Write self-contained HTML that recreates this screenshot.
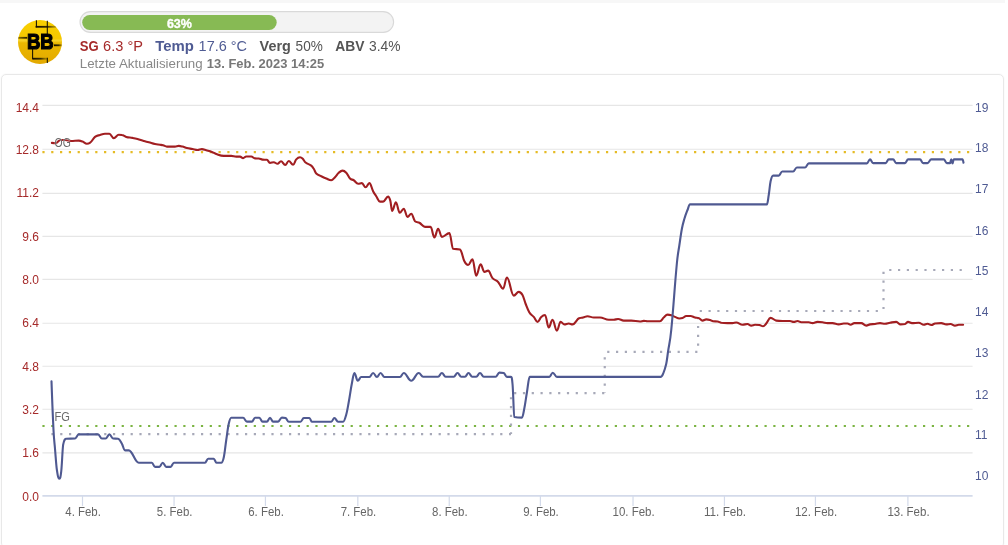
<!DOCTYPE html>
<html><head><meta charset="utf-8">
<style>
html,body{margin:0;padding:0;background:#fff;}
body{width:1008px;height:545px;overflow:hidden;position:relative;font-family:"Liberation Sans", sans-serif;}
#topstrip{position:absolute;left:0;top:0;width:1005px;height:3px;background:#f7f7f7;}
#card{position:absolute;left:0.8px;top:73.6px;width:1002.8px;height:474px;border:1.2px solid #e8e8e8;border-radius:5px;box-sizing:border-box;box-shadow:0 0 1.5px rgba(0,0,0,0.07);}
svg text{font-family:"Liberation Sans", sans-serif;}
svg{will-change:transform;}
</style></head><body>
<div id="topstrip"></div>
<div id="card"></div>
<svg width="1008" height="80" viewBox="0 0 1008 80" style="position:absolute;left:0;top:0">
<defs><linearGradient id="lg" x1="0" y1="0" x2="0" y2="1"><stop offset="0" stop-color="#f9d000"/><stop offset="0.42" stop-color="#f5c800"/><stop offset="0.47" stop-color="#f7d22a"/><stop offset="0.52" stop-color="#ebb800"/><stop offset="1" stop-color="#e3a900"/></linearGradient>
<linearGradient id="lh1" x1="0" y1="0" x2="1" y2="0"><stop offset="0" stop-color="#1a1200"/><stop offset="0.55" stop-color="#3a2e00"/><stop offset="1" stop-color="#9a7d00" stop-opacity="0.6"/></linearGradient>
<linearGradient id="lh2" x1="0" y1="0" x2="1" y2="0"><stop offset="0" stop-color="#8a7000"/><stop offset="1" stop-color="#2a2000"/></linearGradient>
<clipPath id="cc"><circle cx="40" cy="42" r="22"/></clipPath></defs>
<circle cx="40" cy="42" r="22" fill="url(#lg)"/>
<g clip-path="url(#cc)">
<rect x="35.6" y="25.9" width="20.6" height="1.8" fill="url(#lh1)"/>
<rect x="18" y="36.9" width="9.2" height="1.8" fill="url(#lh2)"/>
<rect x="54" y="44.4" width="8.5" height="1.8" fill="url(#lh1)"/>
<rect x="32.6" y="57.8" width="15.1" height="1.8" fill="url(#lh1)"/>
</g>
<g stroke="#151100" stroke-width="1.05" fill="none">
<path d="M36.4 20.2V27.2"/>
<path d="M47.3 20.8V34"/>
<path d="M32.6 49V59.2"/>
<path d="M47.3 57.8V63"/>
</g>
<text x="26.9" y="49.4" font-size="22" font-weight="bold" fill="#000" stroke="#000" stroke-width="1.2" textLength="26.8" lengthAdjust="spacingAndGlyphs">BB</text>
<rect x="80" y="11.6" width="313.6" height="20.8" rx="10.4" fill="#f3f3f3" stroke="#d9d9d9" stroke-width="1.1"/>
<rect x="82.2" y="15" width="194.5" height="15" rx="7.5" fill="#87ba54"/>
<text x="166.9" y="27.5" font-size="12.5" font-weight="bold" fill="#fff" stroke="#fff" stroke-width="0.35" textLength="25" lengthAdjust="spacingAndGlyphs">63%</text>
<text x="79.75" y="50.6" font-size="14.5" font-weight="bold" fill="#a52a2a" textLength="18.9" lengthAdjust="spacingAndGlyphs">SG</text>
<text x="103.1" y="50.6" font-size="14.5" fill="#a52a2a" textLength="39.9" lengthAdjust="spacingAndGlyphs">6.3 °P</text>
<text x="155.3" y="50.6" font-size="14.5" font-weight="bold" fill="#4f5b93" textLength="38.6" lengthAdjust="spacingAndGlyphs">Temp</text>
<text x="198.6" y="50.6" font-size="14.5" fill="#4f5b93" textLength="48.4" lengthAdjust="spacingAndGlyphs">17.6 °C</text>
<text x="259.6" y="50.6" font-size="14.5" font-weight="bold" fill="#555" textLength="31.2" lengthAdjust="spacingAndGlyphs">Verg</text>
<text x="295.6" y="50.6" font-size="14.5" fill="#555" textLength="27.2" lengthAdjust="spacingAndGlyphs">50%</text>
<text x="335.3" y="50.6" font-size="14.5" font-weight="bold" fill="#555" textLength="29.2" lengthAdjust="spacingAndGlyphs">ABV</text>
<text x="369.1" y="50.6" font-size="14.5" fill="#555" textLength="31.5" lengthAdjust="spacingAndGlyphs">3.4%</text>
<text x="79.75" y="67.8" font-size="12" fill="#888" textLength="122.9" lengthAdjust="spacingAndGlyphs">Letzte Aktualisierung</text>
<text x="206.8" y="67.8" font-size="12" font-weight="bold" fill="#777" textLength="117.3" lengthAdjust="spacingAndGlyphs">13. Feb. 2023 14:25</text>
</svg>
<svg width="1008" height="545" viewBox="0 0 1008 545" style="position:absolute;left:0;top:0">
<path d="M42.4 105.40H972.6" stroke="#e6e6e6" stroke-width="1.1"/>
<path d="M42.4 149.30H972.6" stroke="#e6e6e6" stroke-width="1.1"/>
<path d="M42.4 193.40H972.6" stroke="#e6e6e6" stroke-width="1.1"/>
<path d="M42.4 236.40H972.6" stroke="#e6e6e6" stroke-width="1.1"/>
<path d="M42.4 279.40H972.6" stroke="#e6e6e6" stroke-width="1.1"/>
<path d="M42.4 323.20H972.6" stroke="#e6e6e6" stroke-width="1.1"/>
<path d="M42.4 366.30H972.6" stroke="#e6e6e6" stroke-width="1.1"/>
<path d="M42.4 409.20H972.6" stroke="#e6e6e6" stroke-width="1.1"/>
<path d="M42.4 452.90H972.6" stroke="#e6e6e6" stroke-width="1.1"/>
<path d="M42.4 495.90H972.6" stroke="#d3daea" stroke-width="1.7"/>
<path d="M82.50 495.90V505.90" stroke="#d3daea" stroke-width="1.2"/>
<path d="M174.06 495.90V505.90" stroke="#d3daea" stroke-width="1.2"/>
<path d="M265.44 495.90V505.90" stroke="#d3daea" stroke-width="1.2"/>
<path d="M357.83 495.90V505.90" stroke="#d3daea" stroke-width="1.2"/>
<path d="M449.24 495.90V505.90" stroke="#d3daea" stroke-width="1.2"/>
<path d="M540.40 495.90V505.90" stroke="#d3daea" stroke-width="1.2"/>
<path d="M633.03 495.90V505.90" stroke="#d3daea" stroke-width="1.2"/>
<path d="M724.44 495.90V505.90" stroke="#d3daea" stroke-width="1.2"/>
<path d="M815.44 495.90V505.90" stroke="#d3daea" stroke-width="1.2"/>
<path d="M907.90 495.90V505.90" stroke="#d3daea" stroke-width="1.2"/>
<text x="39" y="112.15" text-anchor="end" fill="#a52a2a" font-size="12">14.4</text>
<text x="39" y="154.20" text-anchor="end" fill="#a52a2a" font-size="12">12.8</text>
<text x="39" y="197.10" text-anchor="end" fill="#a52a2a" font-size="12">11.2</text>
<text x="39" y="241.20" text-anchor="end" fill="#a52a2a" font-size="12">9.6</text>
<text x="39" y="284.20" text-anchor="end" fill="#a52a2a" font-size="12">8.0</text>
<text x="39" y="327.10" text-anchor="end" fill="#a52a2a" font-size="12">6.4</text>
<text x="39" y="371.20" text-anchor="end" fill="#a52a2a" font-size="12">4.8</text>
<text x="39" y="414.20" text-anchor="end" fill="#a52a2a" font-size="12">3.2</text>
<text x="39" y="457.20" text-anchor="end" fill="#a52a2a" font-size="12">1.6</text>
<text x="39" y="501.15" text-anchor="end" fill="#a52a2a" font-size="12">0.0</text>
<text x="975" y="112.00" fill="#4f5b93" font-size="12">19</text>
<text x="975" y="152.00" fill="#4f5b93" font-size="12">18</text>
<text x="975" y="192.60" fill="#4f5b93" font-size="12">17</text>
<text x="975" y="235.00" fill="#4f5b93" font-size="12">16</text>
<text x="975" y="275.00" fill="#4f5b93" font-size="12">15</text>
<text x="975" y="315.70" fill="#4f5b93" font-size="12">14</text>
<text x="975" y="357.00" fill="#4f5b93" font-size="12">13</text>
<text x="975" y="399.00" fill="#4f5b93" font-size="12">12</text>
<text x="975" y="439.00" fill="#4f5b93" font-size="12">11</text>
<text x="975" y="480.00" fill="#4f5b93" font-size="12">10</text>
<text x="83.10" y="516.1" text-anchor="middle" fill="#666" font-size="12" textLength="35.6" lengthAdjust="spacingAndGlyphs">4. Feb.</text>
<text x="174.66" y="516.1" text-anchor="middle" fill="#666" font-size="12" textLength="35.6" lengthAdjust="spacingAndGlyphs">5. Feb.</text>
<text x="266.04" y="516.1" text-anchor="middle" fill="#666" font-size="12" textLength="35.6" lengthAdjust="spacingAndGlyphs">6. Feb.</text>
<text x="358.43" y="516.1" text-anchor="middle" fill="#666" font-size="12" textLength="35.6" lengthAdjust="spacingAndGlyphs">7. Feb.</text>
<text x="449.84" y="516.1" text-anchor="middle" fill="#666" font-size="12" textLength="35.6" lengthAdjust="spacingAndGlyphs">8. Feb.</text>
<text x="541.00" y="516.1" text-anchor="middle" fill="#666" font-size="12" textLength="35.6" lengthAdjust="spacingAndGlyphs">9. Feb.</text>
<text x="633.63" y="516.1" text-anchor="middle" fill="#666" font-size="12" textLength="42.2" lengthAdjust="spacingAndGlyphs">10. Feb.</text>
<text x="725.04" y="516.1" text-anchor="middle" fill="#666" font-size="12" textLength="42.2" lengthAdjust="spacingAndGlyphs">11. Feb.</text>
<text x="816.04" y="516.1" text-anchor="middle" fill="#666" font-size="12" textLength="42.2" lengthAdjust="spacingAndGlyphs">12. Feb.</text>
<text x="908.50" y="516.1" text-anchor="middle" fill="#666" font-size="12" textLength="42.2" lengthAdjust="spacingAndGlyphs">13. Feb.</text>
<path d="M42.4 152.2H972.6" stroke="#e5bb25" stroke-width="2.2" stroke-dasharray="2.2 6.606"/>
<path d="M42.4 426H972.6" stroke="#7bb442" stroke-width="2.2" stroke-dasharray="2.2 6.606"/>
<path d="M51.40 434.10H511.00" fill="none" stroke="#a7a9b8" stroke-width="2.2" stroke-dasharray="2.2 6.6" stroke-dashoffset="0.00"/>
<path d="M511.00 434.10V393.10" fill="none" stroke="#a7a9b8" stroke-width="2.2" stroke-dasharray="2.2 6.6" stroke-dashoffset="0.45"/>
<path d="M511.00 393.10H604.75" fill="none" stroke="#a7a9b8" stroke-width="2.2" stroke-dasharray="2.2 6.6" stroke-dashoffset="5.70"/>
<path d="M604.75 393.10V351.90" fill="none" stroke="#a7a9b8" stroke-width="2.2" stroke-dasharray="2.2 6.6" stroke-dashoffset="1.50"/>
<path d="M604.75 351.90H698.10" fill="none" stroke="#a7a9b8" stroke-width="2.2" stroke-dasharray="2.2 6.6" stroke-dashoffset="6.35"/>
<path d="M698.10 351.90V311.00" fill="none" stroke="#a7a9b8" stroke-width="2.2" stroke-dasharray="2.2 6.6" stroke-dashoffset="2.60"/>
<path d="M698.10 311.00H883.50" fill="none" stroke="#a7a9b8" stroke-width="2.2" stroke-dasharray="2.2 6.6" stroke-dashoffset="7.20"/>
<path d="M883.50 311.00V270.00" fill="none" stroke="#a7a9b8" stroke-width="2.2" stroke-dasharray="2.2 6.6" stroke-dashoffset="6.90"/>
<path d="M883.50 270.00H963.50" fill="none" stroke="#a7a9b8" stroke-width="2.2" stroke-dasharray="2.2 6.6" stroke-dashoffset="3.10"/>
<path d="M51.90 142.90C51.90 142.90 54.12 143.10 55.60 143.10C57.60 143.10 58.60 140.00 60.60 140.00C62.36 140.00 63.24 140.00 65.00 140.00C67.50 140.00 68.75 141.00 71.25 141.00C74.25 141.00 75.75 140.60 78.75 140.60C80.25 140.60 81.00 140.92 82.50 141.50C84.26 142.18 85.14 143.75 86.90 143.75C88.14 143.75 88.76 143.75 90.00 142.75C92.00 141.75 93.00 138.45 95.00 136.90C97.00 135.35 98.00 135.63 100.00 135.00C102.00 134.37 103.00 133.75 105.00 133.75C106.76 133.75 107.64 133.75 109.40 133.75C111.14 133.75 112.01 138.10 113.75 138.10C115.75 138.10 116.75 134.75 118.75 134.75C120.01 134.75 120.64 134.75 121.90 135.00C123.64 135.25 124.51 136.42 126.25 136.90C128.75 137.58 130.00 137.43 132.50 137.90C134.50 138.27 135.50 138.45 137.50 139.00C140.00 139.69 141.25 140.28 143.75 141.00C145.75 141.58 146.75 141.70 148.75 142.25C151.25 142.94 152.50 143.54 155.00 144.10C157.00 144.54 158.00 144.47 160.00 144.75C161.24 144.93 161.86 144.92 163.10 145.25C164.62 145.66 165.38 146.60 166.90 146.60C170.14 146.60 171.76 146.60 175.00 146.60C176.50 146.60 177.25 145.90 178.75 145.90C180.25 145.90 181.00 146.20 182.50 146.60C184.26 147.08 185.14 147.68 186.90 148.10C189.14 148.64 190.26 148.60 192.50 149.00C194.50 149.36 195.50 150.00 197.50 150.00C199.26 150.00 200.14 149.10 201.90 149.10C203.64 149.10 204.51 149.76 206.25 150.25C208.51 150.88 209.64 151.05 211.90 151.90C213.64 152.55 214.51 153.41 216.25 154.00C219.25 155.01 220.75 155.90 223.75 155.90C226.75 155.90 228.25 155.90 231.25 155.90C233.25 155.90 234.25 156.60 236.25 156.60C237.75 156.60 238.50 156.60 240.00 156.60C241.24 156.60 241.86 158.10 243.10 158.10C244.36 158.10 244.99 156.50 246.25 156.50C248.25 156.50 249.25 156.50 251.25 156.50C252.75 156.50 253.50 158.30 255.00 158.40C256.50 158.50 257.25 158.40 258.75 158.50C260.25 158.60 261.00 159.45 262.50 159.60C264.26 159.75 265.14 159.60 266.90 159.75C268.14 159.90 268.76 162.90 270.00 162.90C271.50 162.90 272.25 162.25 273.75 162.25C275.25 162.25 276.00 163.75 277.50 163.75C278.90 163.75 279.60 161.25 281.00 161.25C282.70 161.25 283.55 165.00 285.25 165.00C286.65 165.00 287.35 161.00 288.75 161.00C290.49 161.00 291.36 164.75 293.10 164.75C294.36 164.75 294.99 160.77 296.25 159.40C297.75 157.77 298.50 157.25 300.00 157.25C301.00 157.25 301.50 157.56 302.50 158.50C303.74 159.66 304.36 161.49 305.60 162.50C307.86 164.33 308.99 163.87 311.25 165.60C312.25 166.37 312.75 167.17 313.75 168.75C314.75 170.33 315.25 172.50 316.25 173.50C318.25 175.50 319.25 175.25 321.25 176.25C323.25 177.25 324.25 177.70 326.25 178.50C328.25 179.30 329.25 180.25 331.25 180.25C332.75 180.25 333.50 178.75 335.00 177.25C336.50 175.75 337.25 174.08 338.75 172.75C340.25 171.42 341.00 170.60 342.50 170.60C344.00 170.60 344.75 171.17 346.25 172.75C347.75 174.33 348.50 177.00 350.00 178.50C351.50 180.00 352.25 179.28 353.75 180.25C355.49 181.38 356.36 183.75 358.10 183.75C359.62 183.75 360.38 183.10 361.90 183.10C363.38 183.10 364.12 187.25 365.60 187.25C367.12 187.25 367.88 183.10 369.40 183.10C370.88 183.10 371.62 188.41 373.10 191.25C374.36 193.67 374.99 194.36 376.25 196.25C377.75 198.50 378.50 201.60 380.00 201.60C381.24 201.60 381.86 201.60 383.10 201.60C385.10 201.60 386.10 196.60 388.10 196.60C388.98 196.60 389.42 197.53 390.30 200.60C391.06 203.25 391.44 210.90 392.20 210.90C393.68 210.90 394.42 202.20 395.90 202.20C397.42 202.20 398.18 212.80 399.70 212.80C401.32 212.80 402.13 208.75 403.75 208.75C405.25 208.75 406.00 216.90 407.50 216.90C409.00 216.90 409.75 213.75 411.25 213.75C412.75 213.75 413.50 219.75 415.00 221.25C416.76 222.75 417.64 221.76 419.40 222.75C421.64 224.02 422.76 226.90 425.00 226.90C427.24 226.90 428.36 226.90 430.60 226.90C432.12 226.90 432.88 237.50 434.40 237.50C435.88 237.50 436.62 228.75 438.10 228.75C439.62 228.75 440.38 236.90 441.90 236.90C444.90 236.90 446.40 233.10 449.40 233.10C450.88 233.10 451.62 248.10 453.10 248.75C455.86 249.40 457.24 248.75 460.00 249.40C461.76 250.05 462.64 257.86 464.40 261.25C465.88 264.10 466.62 265.00 468.10 265.00C469.86 265.00 470.74 259.40 472.50 259.40C474.00 259.40 474.75 275.60 476.25 275.60C477.99 275.60 478.86 264.40 480.60 264.40C482.12 264.40 482.88 271.90 484.40 271.90C485.88 271.90 486.62 270.60 488.10 270.60C489.86 270.60 490.74 276.11 492.50 278.10C494.74 280.63 495.86 279.65 498.10 281.90C500.10 283.91 501.10 288.75 503.10 288.75C504.62 288.75 505.38 277.50 506.90 277.50C509.64 277.50 511.01 295.60 513.75 295.60C515.75 295.60 516.75 291.90 518.75 291.90C520.25 291.90 521.00 292.41 522.50 295.00C523.74 297.15 524.36 300.61 525.60 303.75C527.12 307.61 527.88 310.05 529.40 312.50C531.14 315.31 532.01 314.88 533.75 316.90C535.25 318.64 536.00 321.90 537.50 321.90C539.00 321.90 539.75 318.28 541.25 316.90C542.75 315.52 543.50 315.00 545.00 315.00C546.50 315.00 547.25 327.50 548.75 327.50C550.25 327.50 551.00 319.75 552.50 319.75C554.26 319.75 555.14 330.60 556.90 330.60C558.38 330.60 559.12 321.90 560.60 321.90C562.12 321.90 562.88 324.40 564.40 324.40C566.14 324.40 567.01 323.50 568.75 323.50C570.25 323.50 571.00 324.40 572.50 324.40C575.26 324.40 576.64 318.70 579.40 318.10C580.88 317.50 581.62 317.84 583.10 317.50C584.86 317.10 585.74 316.25 587.50 316.25C590.00 316.25 591.25 317.50 593.75 317.50C596.25 317.50 597.50 317.50 600.00 317.50C603.50 317.50 605.25 319.75 608.75 319.75C610.75 319.75 611.75 319.75 613.75 319.75C615.49 319.75 616.36 319.00 618.10 319.00C620.36 319.00 621.49 320.60 623.75 320.60C626.75 320.60 628.25 320.60 631.25 320.60C634.75 320.60 636.50 321.50 640.00 321.50C641.50 321.50 642.25 320.90 643.75 320.90C645.25 320.90 646.00 321.25 647.50 321.25C652.50 321.25 655.00 321.25 660.00 321.25C661.50 321.25 662.25 318.83 663.75 317.50C665.25 316.17 666.00 314.60 667.50 314.60C669.00 314.60 669.75 314.79 671.25 315.25C672.75 315.71 673.50 316.30 675.00 316.90C676.76 317.60 677.64 318.50 679.40 318.50C680.64 318.50 681.26 318.50 682.50 318.10C684.00 317.70 684.75 316.00 686.25 316.00C687.99 316.00 688.86 316.00 690.60 316.00C692.36 316.00 693.24 317.05 695.00 317.50C696.50 317.89 697.25 317.50 698.75 318.10C700.25 318.70 701.00 320.60 702.50 320.60C704.00 320.60 704.75 319.40 706.25 319.40C707.75 319.40 708.50 319.59 710.00 320.00C711.24 320.33 711.86 321.00 713.10 321.25C714.86 321.50 715.74 321.25 717.50 321.50C719.00 321.75 719.75 322.40 721.25 322.75C723.75 323.10 725.00 323.10 727.50 323.10C729.50 323.10 730.50 323.10 732.50 323.10C734.00 323.10 734.75 322.50 736.25 322.50C738.75 322.50 740.00 324.75 742.50 324.75C744.50 324.75 745.50 324.00 747.50 324.00C749.00 324.00 749.75 325.60 751.25 325.60C752.75 325.60 753.50 324.75 755.00 324.75C756.76 324.75 757.64 324.75 759.40 325.00C760.88 325.25 761.62 326.25 763.10 326.25C764.36 326.25 764.99 324.90 766.25 323.50C767.99 321.56 768.86 317.90 770.60 317.90C772.86 317.90 773.99 320.20 776.25 320.60C778.75 321.00 780.00 321.00 782.50 321.00C785.50 321.00 787.00 321.00 790.00 321.00C791.50 321.00 792.25 321.90 793.75 321.90C795.25 321.90 796.00 321.00 797.50 321.00C799.00 321.00 799.75 322.25 801.25 322.25C804.25 322.25 805.75 322.25 808.75 322.25C810.25 322.25 811.00 323.10 812.50 323.10C814.50 323.10 815.50 321.90 817.50 321.90C819.50 321.90 820.50 322.01 822.50 322.25C824.50 322.49 825.50 323.10 827.50 323.10C829.50 323.10 830.50 323.10 832.50 323.10C835.00 323.10 836.25 324.40 838.75 324.40C840.75 324.40 841.75 323.50 843.75 323.50C845.25 323.50 846.00 323.50 847.50 323.50C848.74 323.50 849.36 324.75 850.60 324.75C852.12 324.75 852.88 323.10 854.40 323.10C857.14 323.10 858.51 323.10 861.25 323.10C863.25 323.10 864.25 325.60 866.25 325.60C867.75 325.60 868.50 324.67 870.00 324.40C872.00 324.03 873.00 324.26 875.00 324.00C877.00 323.74 878.00 323.10 880.00 323.10C882.00 323.10 883.00 323.75 885.00 323.75C887.00 323.75 888.00 323.08 890.00 322.75C892.50 322.34 893.75 321.90 896.25 321.90C897.99 321.90 898.86 324.40 900.60 324.40C902.36 324.40 903.24 324.40 905.00 324.00C906.24 323.60 906.86 321.90 908.10 321.90C909.62 321.90 910.38 323.10 911.90 323.10C914.64 323.10 916.01 322.75 918.75 322.75C920.75 322.75 921.75 324.75 923.75 324.75C925.25 324.75 926.00 323.75 927.50 323.75C929.00 323.75 929.75 325.00 931.25 325.00C932.75 325.00 933.50 323.90 935.00 323.50C937.50 323.10 938.75 323.10 941.25 323.10C943.25 323.10 944.25 324.40 946.25 324.40C947.99 324.40 948.86 324.00 950.60 324.00C952.36 324.00 953.24 325.60 955.00 325.60C956.50 325.60 957.25 324.75 958.75 324.75C960.49 324.75 963.10 324.75 963.10 324.75" fill="none" stroke="#a11e21" stroke-width="2.1" stroke-linejoin="round" stroke-linecap="round"/>
<path d="M51.50 381.40C51.50 381.40 52.70 414.61 53.50 430.00C54.10 441.55 54.40 441.69 55.00 448.75C55.76 457.69 56.14 464.82 56.90 470.00C57.90 476.82 58.40 478.75 59.40 478.75C60.14 478.75 60.51 478.00 61.25 471.25C61.99 464.50 62.36 451.25 63.10 445.00C64.36 438.75 64.99 439.00 66.25 438.75C69.75 438.50 71.50 438.75 75.00 438.50C76.50 438.25 77.25 434.40 78.75 434.40C86.49 434.40 90.36 434.40 98.10 434.40C99.62 434.40 100.38 438.50 101.90 438.50C103.38 438.50 104.12 438.50 105.60 438.50C107.12 438.50 107.88 434.40 109.40 434.40C110.88 434.40 111.62 438.25 113.10 438.50C115.10 438.75 116.10 438.50 118.10 438.75C119.62 439.00 120.38 441.18 121.90 443.75C123.14 445.84 123.76 450.40 125.00 450.40C126.50 450.40 127.25 450.40 128.75 450.40C132.75 450.40 134.75 462.75 138.75 462.75C144.01 462.75 146.64 462.75 151.90 462.75C153.14 462.75 153.76 466.90 155.00 466.90C156.76 466.90 157.64 466.90 159.40 466.90C160.74 466.90 161.41 462.75 162.75 462.75C164.15 462.75 164.85 466.90 166.25 466.90C167.99 466.90 168.86 466.90 170.60 466.90C171.96 466.90 172.64 462.75 174.00 462.75C186.40 462.75 192.60 462.75 205.00 462.75C206.24 462.75 206.86 458.75 208.10 458.75C210.36 458.75 211.49 458.75 213.75 458.75C214.85 458.75 215.40 462.75 216.50 462.75C218.40 462.75 219.35 462.75 221.25 462.75C222.25 462.75 222.75 462.05 223.75 457.50C224.75 452.95 225.25 446.75 226.25 440.00C227.25 433.25 227.75 428.20 228.75 423.75C229.75 419.30 230.25 417.75 231.25 417.75C235.99 417.75 238.36 417.75 243.10 417.75C244.62 417.75 245.38 421.60 246.90 421.60C248.90 421.60 249.90 421.60 251.90 421.60C253.14 421.60 253.76 417.75 255.00 417.75C256.76 417.75 257.64 417.75 259.40 417.75C260.64 417.75 261.26 421.60 262.50 421.60C264.26 421.60 265.14 421.60 266.90 421.60C268.14 421.60 268.76 417.75 270.00 417.75C271.24 417.75 271.86 421.60 273.10 421.60C275.10 421.60 276.10 421.60 278.10 421.60C279.62 421.60 280.38 417.60 281.90 417.60C283.38 417.60 284.12 417.60 285.60 418.00C286.86 418.40 287.49 421.75 288.75 421.75C293.49 421.75 295.86 421.75 300.60 421.75C301.86 421.75 302.49 418.00 303.75 418.00C306.01 418.00 307.14 418.00 309.40 418.00C310.40 418.00 310.90 421.75 311.90 421.75C319.64 421.75 323.51 421.75 331.25 421.75C332.51 421.75 333.14 418.00 334.40 418.00C335.88 418.00 336.62 421.75 338.10 421.75C340.10 421.75 341.10 421.75 343.10 421.75C344.36 421.75 344.99 418.90 346.25 414.50C347.25 411.00 347.75 407.53 348.75 402.00C350.01 395.03 350.64 389.72 351.90 383.25C352.90 378.12 353.40 373.00 354.40 373.00C355.74 373.00 356.41 380.75 357.75 380.75C359.15 380.75 359.85 377.00 361.25 377.00C364.51 377.00 366.14 377.00 369.40 377.00C370.88 377.00 371.62 373.00 373.10 373.00C374.62 373.00 375.38 377.00 376.90 377.00C378.38 377.00 379.12 373.00 380.60 373.00C382.12 373.00 382.88 377.00 384.40 377.00C390.64 377.00 393.76 377.00 400.00 377.00C401.50 377.00 402.25 373.00 403.75 373.00C406.75 373.00 408.25 380.75 411.25 380.75C414.25 380.75 415.75 373.00 418.75 373.00C420.49 373.00 421.36 376.75 423.10 376.75C429.10 376.75 432.10 376.75 438.10 376.75C439.62 376.75 440.38 373.00 441.90 373.00C443.38 373.00 444.12 376.75 445.60 376.75C448.86 376.75 450.49 376.75 453.75 376.75C455.25 376.75 456.00 373.00 457.50 373.00C459.00 373.00 459.75 376.75 461.25 376.75C462.75 376.75 463.50 376.75 465.00 376.75C466.40 376.75 467.10 373.00 468.50 373.00C470.00 373.00 470.75 376.75 472.25 376.75C473.85 376.75 474.65 376.75 476.25 376.75C477.75 376.75 478.50 373.00 480.00 373.00C481.50 373.00 482.25 376.75 483.75 376.75C488.49 376.75 490.86 376.75 495.60 376.75C497.12 376.75 497.88 372.60 499.40 372.60C501.14 372.60 502.01 372.60 503.75 373.00C505.01 373.40 505.64 376.90 506.90 376.90C508.54 376.90 509.36 376.90 511.00 376.90C511.60 376.90 511.90 376.90 512.50 383.75C513.26 390.60 513.64 416.40 514.40 417.00C517.40 417.60 518.90 417.60 521.90 417.60C522.90 417.60 523.40 413.02 524.40 408.00C525.40 402.98 525.90 398.31 526.90 392.50C528.04 385.87 528.61 376.90 529.75 376.90C537.61 376.90 541.54 376.90 549.40 376.90C550.74 376.90 551.41 372.75 552.75 372.75C554.41 372.75 555.24 376.90 556.90 376.90C598.38 376.90 619.12 376.90 660.60 376.90C661.60 376.90 662.10 376.08 663.10 373.75C664.36 370.82 664.99 369.42 666.25 363.75C666.99 360.42 667.36 356.25 668.10 351.25C669.36 342.75 669.99 342.64 671.25 330.00C673.51 307.34 674.64 286.57 676.90 263.00C677.90 252.57 678.40 251.85 679.40 245.00C680.40 238.15 680.90 234.00 681.90 228.75C682.90 223.50 683.40 222.10 684.40 218.75C685.64 214.60 686.26 213.18 687.50 210.00C688.50 207.44 689.00 204.40 690.00 204.40C720.76 204.40 736.14 204.40 766.90 204.40C767.64 204.40 768.01 199.63 768.75 195.00C769.49 190.37 769.86 184.55 770.60 181.25C771.60 176.79 772.10 175.60 773.10 175.60C775.36 175.60 776.49 175.60 778.75 175.60C780.15 175.60 780.85 171.50 782.25 171.50C786.59 171.50 788.76 171.50 793.10 171.50C794.62 171.50 795.38 167.50 796.90 167.50C800.14 167.50 801.76 167.50 805.00 167.50C806.50 167.50 807.25 163.40 808.75 163.40C832.01 163.40 843.64 163.40 866.90 163.40C868.14 163.40 868.76 159.40 870.00 159.40C871.24 159.40 871.86 163.10 873.10 163.10C878.10 163.10 880.60 163.10 885.60 163.10C886.86 163.10 887.49 159.40 888.75 159.40C890.49 159.40 891.36 159.40 893.10 159.40C894.36 159.40 894.99 163.10 896.25 163.10C899.75 163.10 901.50 163.10 905.00 163.10C906.24 163.10 906.86 159.40 908.10 159.40C912.86 159.40 915.24 159.40 920.00 159.40C921.24 159.40 921.86 163.10 923.10 163.10C924.86 163.10 925.74 163.10 927.50 163.10C929.00 163.10 929.75 159.40 931.25 159.40C936.25 159.40 938.75 159.40 943.75 159.40C945.01 159.40 945.64 163.10 946.90 163.10C948.14 163.10 948.76 163.10 950.00 163.10C950.50 163.10 950.75 159.40 951.25 159.40C951.75 159.40 952.00 163.50 952.50 163.50C953.00 163.50 953.25 159.40 953.75 159.40C957.25 159.40 959.00 159.40 962.50 159.40C962.90 159.40 963.50 162.75 963.50 162.75" fill="none" stroke="#4f5991" stroke-width="2.1" stroke-linejoin="round" stroke-linecap="round"/>
<text x="54.6" y="146.5" fill="#6a6a6a" stroke="rgba(255,255,255,0.6)" stroke-width="0.7" paint-order="stroke" font-size="12" textLength="16.2" lengthAdjust="spacingAndGlyphs">OG</text>
<text x="54.6" y="420.8" fill="#6a6a6a" stroke="rgba(255,255,255,0.6)" stroke-width="0.7" paint-order="stroke" font-size="12" textLength="15.4" lengthAdjust="spacingAndGlyphs">FG</text>
</svg>
</body></html>
